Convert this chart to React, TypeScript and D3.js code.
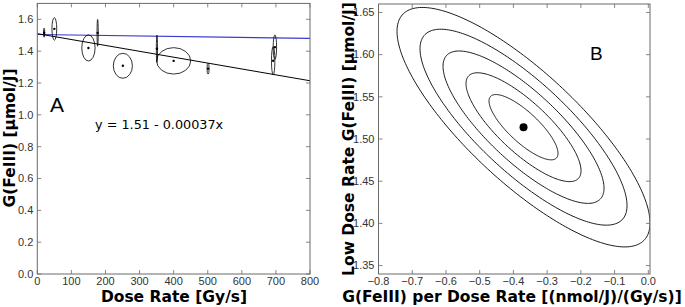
import React from "react";
import * as d3 from "d3";

// ---------- Panel A data ----------
const doseRate = [20, 50, 150, 177, 251, 351, 400, 501, 697, 692];
const gValue = [1.516, 1.54, 1.42, 1.515, 1.308, 1.415, 1.339, 1.29, 1.425, 1.34];
const doseErr = [1.5, 7, 19.5, 0.9, 28, 1.2, 50, 3, 5, 5];
const gErr = [0.028, 0.071, 0.082, 0.084, 0.0785, 0.085, 0.083, 0.034, 0.077, 0.088];
const fitIntercept = 1.51;
const fitSlope = -0.00037;
const lowDoseLine = [
  [0, 1.505],
  [800, 1.48],
];
const aXTicks = [0, 100, 200, 300, 400, 500, 600, 700, 800];
const aYTicks = [0, 0.2, 0.4, 0.6, 0.8, 1.0, 1.2, 1.4, 1.6];

// ---------- Panel B data ----------
const bCenter = [-0.37, 1.514];
const bSigma = [0.0682, 0.0258];
const bRho = -0.8;
const bLevels = [1.5, 2.5, 3.5, 4.5, 5.5];
const bXTicks = [-0.8, -0.7, -0.6, -0.5, -0.4, -0.3, -0.2, -0.1, 0.0];
const bYTicks = [1.35, 1.4, 1.45, 1.5, 1.55, 1.6, 1.65];

const W = 685;
const H = 307;
const frameColor = "#6a6a6a";
const tickFont = "'Liberation Sans', Arial, sans-serif";
const labelFont = "'DejaVu Sans', Verdana, sans-serif";

function fmtB(v: number) {
  const s = Math.abs(v).toFixed(1);
  return v < -1e-9 ? "\u2212" + s : s;
}

function Frame({ x, y, xTicks, yTicks, xFmt, yFmt }: any) {
  const [x0, x1] = x.range();
  const [y0, y1] = y.range();
  const tl = 4;
  return (
    <g>
      {xTicks.map((t: number, i: number) => (
        <g key={"xt" + i}>
          <line x1={x(t)} x2={x(t)} y1={y0} y2={y0 - tl} stroke={frameColor} strokeWidth={0.8} />
          <line x1={x(t)} x2={x(t)} y1={y1} y2={y1 + tl} stroke={frameColor} strokeWidth={0.8} />
          <text
            x={x(t)}
            y={y0 + 11}
            textAnchor="middle"
            fontFamily={tickFont}
            fontSize={11}
            fill="#333"
          >
            {xFmt(t)}
          </text>
        </g>
      ))}
      {yTicks.map((t: number, i: number) => (
        <g key={"yt" + i}>
          <line x1={x0} x2={x0 + tl} y1={y(t)} y2={y(t)} stroke={frameColor} strokeWidth={0.8} />
          <line x1={x1} x2={x1 - tl} y1={y(t)} y2={y(t)} stroke={frameColor} strokeWidth={0.8} />
          <text
            x={x0 - 4}
            y={y(t)}
            dy="0.35em"
            textAnchor="end"
            fontFamily={tickFont}
            fontSize={11}
            fill="#333"
          >
            {yFmt(t)}
          </text>
        </g>
      ))}
      <rect
        x={x0}
        y={y1}
        width={x1 - x0}
        height={y0 - y1}
        fill="none"
        stroke={frameColor}
        strokeWidth={1}
      />
    </g>
  );
}

export default function App() {
  // Panel A scales
  const ax = d3.scaleLinear().domain([0, 800]).range([37.3, 310]);
  const ay = d3.scaleLinear().domain([0, 1.7]).range([274, 3.4]);
  // Panel B scales
  const bx = d3.scaleLinear().domain([-0.8, 0.005]).range([378.5, 650]);
  const by = d3.scaleLinear().domain([1.34, 1.66]).range([274, 4]);

  const line = d3.line<number[]>();
  const fitPts = [0, 800].map((d) => [ax(d), ay(fitIntercept + fitSlope * d)]);
  const lowPts = lowDoseLine.map((d) => [ax(d[0]), ay(d[1])]);

  const ellipsePaths = bLevels.map((k) => {
    const n = 240;
    const pts: number[][] = d3.range(n + 1).map((i) => {
      const t = (i / n) * 2 * Math.PI;
      const dx = k * bSigma[0] * Math.cos(t);
      const dy = k * bSigma[1] * (bRho * Math.cos(t) + Math.sqrt(1 - bRho * bRho) * Math.sin(t));
      return [bx(bCenter[0] + dx), by(bCenter[1] + dy)];
    });
    return line(pts) as string;
  });

  return (
    <svg
      width={W}
      height={H}
      style={{ position: "absolute", left: 0, top: 0, background: "#fff" }}
    >
      <defs>
        <clipPath id="clipA">
          <rect x={37.3} y={3.4} width={310 - 37.3} height={274 - 3.4} />
        </clipPath>
        <clipPath id="clipB">
          <rect x={378.5} y={4} width={650 - 378.5} height={270} />
        </clipPath>
      </defs>
      <rect x={0} y={0} width={W} height={H} fill="#fff" />

      {/* Panel A */}
      <g clipPath="url(#clipA)">
        <path d={line(lowPts as any) as string} stroke="#3a3ad0" strokeWidth={1.1} fill="none" />
        <path d={line(fitPts as any) as string} stroke="#000" strokeWidth={1} fill="none" />
        {doseRate.map((d, i) => (
          <g key={"e" + i}>
            <ellipse
              cx={ax(d)}
              cy={ay(gValue[i])}
              rx={Math.max(ax(d + doseErr[i]) - ax(d), 0.6)}
              ry={ay(gValue[i]) - ay(gValue[i] + gErr[i])}
              fill="none"
              stroke="#000"
              strokeWidth={0.8}
            />
            <circle cx={ax(d)} cy={ay(gValue[i])} r={1.2} fill="#000" />
          </g>
        ))}
      </g>
      <Frame x={ax} y={ay} xTicks={aXTicks} yTicks={aYTicks} xFmt={(t: number) => String(t)} yFmt={(t: number) => t.toFixed(1)} />
      <text x={50} y={112} fontFamily={tickFont} fontSize={21} fill="#000">
        A
      </text>
      <text x={95} y={129} fontFamily={labelFont} fontSize={12.8} fill="#000">
        y = 1.51 - 0.00037x
      </text>
      <text
        x={174}
        y={301.5}
        textAnchor="middle"
        fontFamily={labelFont}
        fontWeight="bold"
        fontSize={15.5}
        fill="#000"
      >
        Dose Rate [Gy/s]
      </text>
      <text
        transform="translate(15,138) rotate(-90)"
        textAnchor="middle"
        fontFamily={labelFont}
        fontWeight="bold"
        fontSize={15.5}
        fill="#000"
      >
        G(FeIII) [μmol/J]
      </text>

      {/* Panel B */}
      <g clipPath="url(#clipB)">
        {ellipsePaths.map((p, i) => (
          <path key={"b" + i} d={p} fill="none" stroke="#000" strokeWidth={0.9} />
        ))}
        <circle cx={bx(bCenter[0])} cy={by(bCenter[1])} r={4} fill="#000" />
      </g>
      <Frame x={bx} y={by} xTicks={bXTicks} yTicks={bYTicks} xFmt={fmtB} yFmt={(t: number) => t.toFixed(2)} />
      <text x={590} y={60} fontFamily={tickFont} fontSize={19} fill="#000">
        B
      </text>
      <text
        x={512}
        y={301.5}
        textAnchor="middle"
        fontFamily={labelFont}
        fontWeight="bold"
        fontSize={15.5}
        fill="#000"
      >
        G(FeIII) per Dose Rate [(nmol/J)/(Gy/s)]
      </text>
      <text
        transform="translate(354,139) rotate(-90)"
        textAnchor="middle"
        fontFamily={labelFont}
        fontWeight="bold"
        fontSize={15.5}
        fill="#000"
      >
        Low Dose Rate G(FeIII) [μmol/J]
      </text>
    </svg>
  );
}
